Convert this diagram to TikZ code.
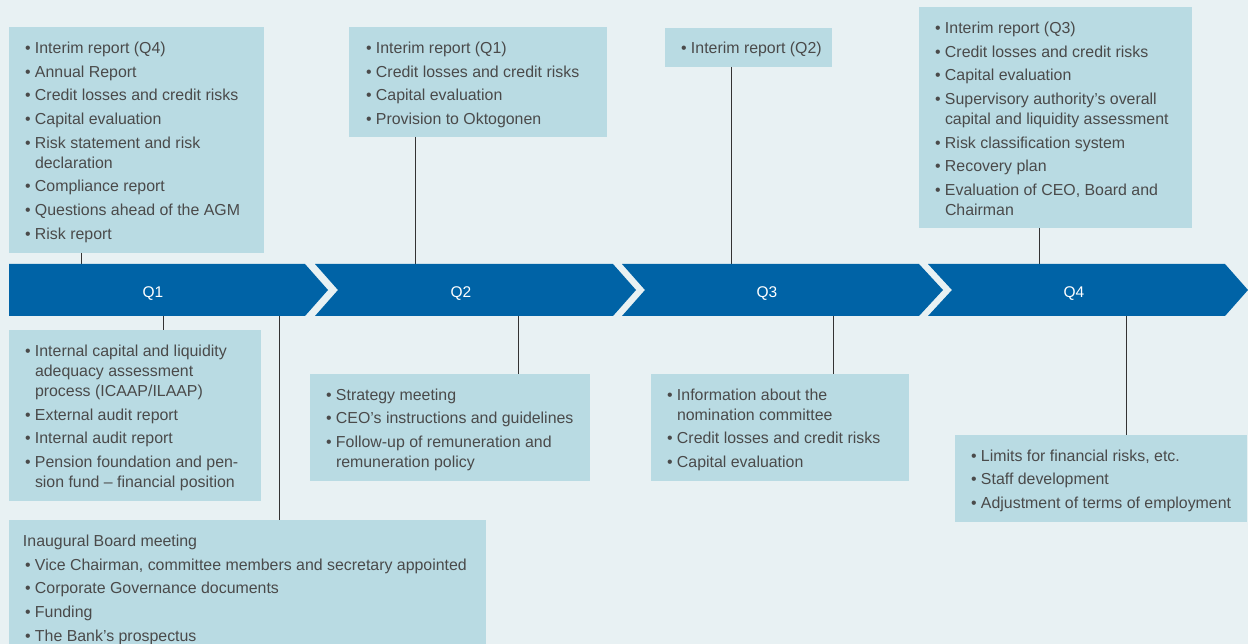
\documentclass[tikz,border=0pt]{standalone}
\usepackage{fontspec}
\setmainfont{Liberation Sans}
\usetikzlibrary{calc}
\definecolor{bgc}{HTML}{E8F1F3}
\definecolor{boxc}{HTML}{B9DBE3}
\definecolor{bandc}{HTML}{0063A6}
\definecolor{txtc}{HTML}{4A4A4A}
\definecolor{linec}{HTML}{333333}
\newcommand\itm{\par\hangindent=10pt\hangafter=1\noindent\makebox[10pt][l]{\textbullet}}
\newcommand\boxtext[1]{\parbox[t]{520pt}{\raggedright\fontsize{15.9}{20}\selectfont\setlength\parskip{3.7pt}#1}}
\begin{document}
\begin{tikzpicture}[x=1pt,y=-1pt,
  infobox/.style={fill=boxc, draw=none, inner sep=0pt, outer sep=0pt, anchor=north west},
  infotext/.style={anchor=base west, inner sep=0pt, outer sep=0pt, text=txtc},
  seglabel/.style={text=white, font=\fontsize{15.5}{18}\selectfont, inner sep=0pt},
  link/.style={draw=linec, line width=0.9pt},
  band/.style={fill=bandc}]
\fill[bgc] (0,0) rectangle (1248,644);
\useasboundingbox (0,0) rectangle (1248,644);

% boxes
\node[infobox, minimum width=255pt, minimum height=226pt] (A) at (9,27) {};
\node[infobox, minimum width=258pt, minimum height=110pt] (B) at (349,27) {};
\node[infobox, minimum width=167pt, minimum height=39pt] (C) at (665,28) {};
\node[infobox, minimum width=273pt, minimum height=221pt] (D) at (919,7) {};
\node[infobox, minimum width=252pt, minimum height=171pt] (E) at (9,330) {};
\node[infobox, minimum width=477pt, minimum height=124pt] (F) at (9,520) {};
\node[infobox, minimum width=280pt, minimum height=107pt] (G) at (310,374) {};
\node[infobox, minimum width=258pt, minimum height=107pt] (H) at (651,374) {};
\node[infobox, minimum width=292pt, minimum height=87pt] (I) at (955,435) {};

% band coordinates
\coordinate (ta) at (81,264);
\coordinate (tb) at (415,264);
\coordinate (tc) at (731,264);
\coordinate (td) at (1039,264);
\coordinate (be) at (163,316);
\coordinate (bf) at (279,316);
\coordinate (bg) at (518,316);
\coordinate (bh) at (833,316);
\coordinate (bi) at (1126,316);

% connectors
\draw[link] (A.south -| ta) -- (ta);
\draw[link] (B.south -| tb) -- (tb);
\draw[link] (C.south -| tc) -- (tc);
\draw[link] (D.south -| td) -- (td);
\draw[link] (be) -- (be |- E.north);
\draw[link] (bf) -- (bf |- F.north);
\draw[link] (bg) -- (bg |- G.north);
\draw[link] (bh) -- (bh |- H.north);
\draw[link] (bi) -- (bi |- I.north);

% band
\fill[band] (9,264) -- (305,264) -- (328,290) -- (305,316) -- (9,316) -- cycle;
\fill[band] (315,264) -- (613,264) -- (636,290) -- (613,316) -- (315,316) -- (338,290) -- cycle;
\fill[band] (622,264) -- (919,264) -- (943,290) -- (919,316) -- (622,316) -- (645,290) -- cycle;
\fill[band] (928,264) -- (1225,264) -- (1248,290) -- (1225,316) -- (928,316) -- (952,290) -- cycle;
\node[seglabel] (q1) at (153,293.5) {Q1};
\node[seglabel] (q2) at (461,293.5) {Q2};
\node[seglabel] (q3) at (767,293.5) {Q3};
\node[seglabel] (q4) at (1074,293.5) {Q4};

% texts
\node[infotext] (tA) at ($(A.north west)+(16,26.5)$) {\boxtext{%
\itm Interim report (Q4)
\itm Annual Report
\itm Credit losses and credit risks
\itm Capital evaluation
\itm Risk statement and risk\newline declaration
\itm Compliance report
\itm Questions ahead of the AGM
\itm Risk report}};

\node[infotext] (tB) at ($(B.north west)+(17,26.5)$) {\boxtext{%
\itm Interim report (Q1)
\itm Credit losses and credit risks
\itm Capital evaluation
\itm Provision to Oktogonen}};

\node[infotext] (tC) at ($(C.north west)+(16,26)$) {\boxtext{%
\itm Interim report (Q2)}};

\node[infotext] (tD) at ($(D.north west)+(16,26.5)$) {\boxtext{%
\itm Interim report (Q3)
\itm Credit losses and credit risks
\itm Capital evaluation
\itm Supervisory authority’s overall\newline capital and liquidity assessment
\itm Risk classification system
\itm Recovery plan
\itm Evaluation of CEO, Board and\newline Chairman}};

\node[infotext] (tE) at ($(E.north west)+(16,26.5)$) {\boxtext{%
\itm Internal capital and liquidity\newline adequacy assessment\newline process (ICAAP/ILAAP)
\itm External audit report
\itm Internal audit report
\itm Pension foundation and pen-\newline sion fund – financial position}};

\node[infotext] (tF) at ($(F.north west)+(16,26.5)$) {\boxtext{%
\noindent\hspace*{-2pt}Inaugural Board meeting
\itm Vice Chairman, committee members and secretary appointed
\itm Corporate Governance documents
\itm Funding
\itm The Bank’s prospectus}};

\node[infotext] (tG) at ($(G.north west)+(16,26)$) {\boxtext{%
\itm Strategy meeting
\itm CEO’s instructions and guidelines
\itm Follow-up of remuneration and\newline remuneration policy}};

\node[infotext] (tH) at ($(H.north west)+(16,26)$) {\boxtext{%
\itm Information about the\newline nomination committee
\itm Credit losses and credit risks
\itm Capital evaluation}};

\node[infotext] (tI) at ($(I.north west)+(16,26)$) {\boxtext{%
\itm Limits for financial risks, etc.
\itm Staff development
\itm Adjustment of terms of employment}};
\end{tikzpicture}
\end{document}
